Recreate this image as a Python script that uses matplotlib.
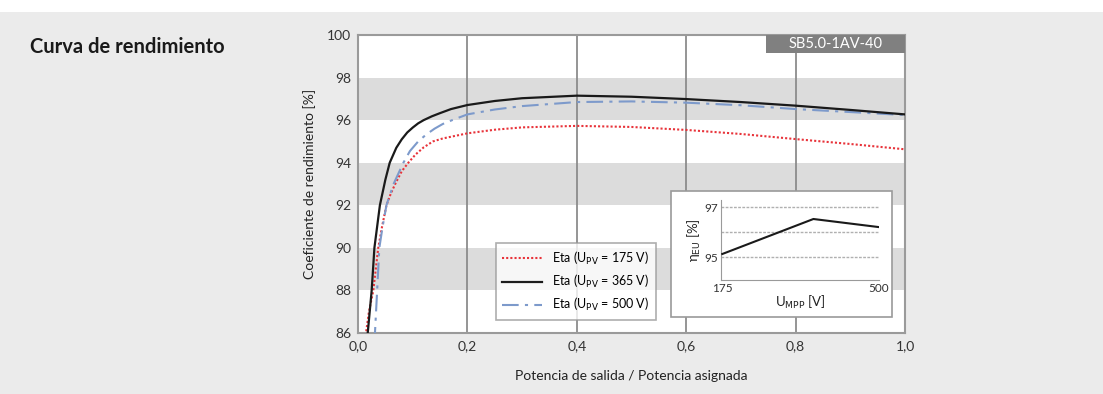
import matplotlib
matplotlib.use("Agg")
import matplotlib.pyplot as plt
from matplotlib.patches import Rectangle

plt.rcParams['font.family'] = ['Lato', 'DejaVu Sans']

# Curvas de rendimiento (potencia relativa, eficiencia %)
p_175 = [0.012, 0.02, 0.028, 0.037, 0.044, 0.052, 0.06, 0.068, 0.08, 0.092, 0.105, 0.12,
         0.137, 0.155, 0.17, 0.185, 0.2, 0.25, 0.3, 0.4, 0.5, 0.6, 0.7, 0.8, 0.9, 1.0]
eta_175 = [85.5, 87.0, 88.0, 90.0, 91.0, 92.0, 92.55, 93.0, 93.6, 94.0, 94.38, 94.72,
           95.0, 95.14, 95.22, 95.3, 95.38, 95.55, 95.66, 95.73, 95.68, 95.54, 95.35,
           95.11, 94.88, 94.63]

p_365 = [0.016, 0.025, 0.03, 0.04, 0.05, 0.058, 0.07, 0.08, 0.09, 0.1, 0.11, 0.12,
         0.135, 0.15, 0.17, 0.2, 0.25, 0.3, 0.4, 0.5, 0.6, 0.7, 0.8, 0.9, 1.0]
eta_365 = [85.5, 88.0, 90.0, 92.0, 93.2, 94.0, 94.7, 95.1, 95.42, 95.65, 95.85, 96.0,
           96.18, 96.33, 96.52, 96.71, 96.9, 97.03, 97.15, 97.1, 96.99, 96.85, 96.68,
           96.48, 96.27]

p_500 = [0.03, 0.035, 0.039, 0.045, 0.052, 0.065, 0.083, 0.095, 0.11, 0.125, 0.14,
         0.155, 0.174, 0.2, 0.25, 0.3, 0.4, 0.5, 0.6, 0.7, 0.8, 0.9, 1.0]
eta_500 = [85.5, 88.0, 90.0, 91.0, 92.0, 93.0, 94.0, 94.55, 95.0, 95.33, 95.6,
           95.82, 96.02, 96.27, 96.5, 96.66, 96.85, 96.88, 96.82, 96.7, 96.52, 96.38,
           96.24]

# Rendimiento europeo segun tension MPP
u_mpp = [175, 365, 500]
eta_eu = [95.12, 96.52, 96.2]

x_ticks = [0.0, 0.2, 0.4, 0.6, 0.8, 1.0]
x_labels = ['0,0', '0,2', '0,4', '0,6', '0,8', '1,0']
y_ticks = [86, 88, 90, 92, 94, 96, 98, 100]
bandas = [(88, 90), (92, 94), (96, 98)]

gris_borde = '#9a9a9a'

fig = plt.figure(figsize=(11.03, 3.94), dpi=100, facecolor='#ebebeb')
fig.patches.append(Rectangle((0, 1 - 12 / 394), 1, 12 / 394, transform=fig.transFigure,
                             facecolor='white', edgecolor='none', zorder=0))

fig.text(30 / 1103, 1 - 47 / 394, 'Curva de rendimiento', fontsize=14.5,
         fontweight='bold', va='center', ha='left', color='#1a1a1a')

ax = fig.add_axes([358 / 1103, 1 - 333 / 394, 547 / 1103, 298 / 394])
ax.set_facecolor('white')
for lo, hi in bandas:
    ax.axhspan(lo, hi, color='#dcdcdc', zorder=0, lw=0)
for xv in x_ticks[1:-1]:
    ax.axvline(xv, color='#8c8c8c', lw=1.3, zorder=1)

ax.plot(p_175, eta_175, color='#e8333a', ls=(0, (1, 1)), lw=1.5, zorder=3,
        label=r'Eta (U$_{\mathrm{PV}}$ = 175 V)')
ax.plot(p_365, eta_365, color='#1a1a1a', ls='-', lw=1.6, zorder=4,
        label=r'Eta (U$_{\mathrm{PV}}$ = 365 V)')
ax.plot(p_500, eta_500, color='#7d9acb', ls=(0, (8, 3, 1.5, 3)), lw=1.5, zorder=3,
        label=r'Eta (U$_{\mathrm{PV}}$ = 500 V)')

ax.set_xlim(0, 1)
ax.set_ylim(86, 100)
ax.set_xticks(x_ticks)
ax.set_xticklabels(x_labels)
ax.set_yticks(y_ticks)
ax.tick_params(length=0, labelsize=10, colors='#333333', pad=5)
for s in ax.spines.values():
    s.set_color(gris_borde)
    s.set_linewidth(1.5)
ax.set_xlabel('Potencia de salida / Potencia asignada', fontsize=10, color='#222222', labelpad=13)
ax.set_ylabel('Coeficiente de rendimiento [%]', fontsize=10, color='#222222', labelpad=8)

leg = ax.legend(loc='lower left', bbox_to_anchor=(0.252, 0.045), fontsize=9,
                frameon=True, fancybox=False, handlelength=3.2, borderpad=0.5,
                labelspacing=0.5, borderaxespad=0)
leg.get_frame().set_edgecolor(gris_borde)
leg.get_frame().set_linewidth(1.2)
leg.set_zorder(6)

# Etiqueta del modelo
ax.add_patch(Rectangle((0.746, 0.94), 0.254, 0.06, transform=ax.transAxes,
                       facecolor='#808080', edgecolor='none', zorder=7, clip_on=False))
ax.text(0.873, 0.97, 'SB5.0-1AV-40', transform=ax.transAxes, color='white',
        fontsize=10.5, ha='center', va='center', zorder=8)

# Recuadro del grafico insertado
ax.add_patch(Rectangle(((671 - 358) / 547, (333 - 317) / 298), 221 / 547, 126 / 298,
                       transform=ax.transAxes, facecolor='white', edgecolor=gris_borde,
                       lw=1.2, zorder=6))

axi = fig.add_axes([721 / 1103, 1 - 280 / 394, 158 / 1103, 80 / 394])
axi.set_facecolor('none')
for yv in [95, 96, 97]:
    axi.axhline(yv, color='#b0b0b0', lw=1.0, ls=(0, (2, 1)), zorder=1)
axi.plot(u_mpp, eta_eu, color='#1a1a1a', lw=1.5, zorder=3)
axi.set_xlim(172.3, 501.8)
axi.set_ylim(94.08, 97.28)
axi.set_xticks([175, 500])
axi.set_yticks([95, 97])
axi.tick_params(length=0, labelsize=8.5, colors='#333333', pad=2)
axi.spines['top'].set_visible(False)
axi.spines['right'].set_visible(False)
axi.spines['left'].set_color(gris_borde)
axi.spines['bottom'].set_color(gris_borde)
axi.set_xlabel(r'U$_{\mathrm{MPP}}$ [V]', fontsize=9.5, color='#222222', labelpad=0)
axi.set_ylabel(r'η$_{\mathrm{EU}}$ [%]', fontsize=9.5, color='#222222', labelpad=1)

fig.savefig('out.png', dpi=100, facecolor=fig.get_facecolor())
